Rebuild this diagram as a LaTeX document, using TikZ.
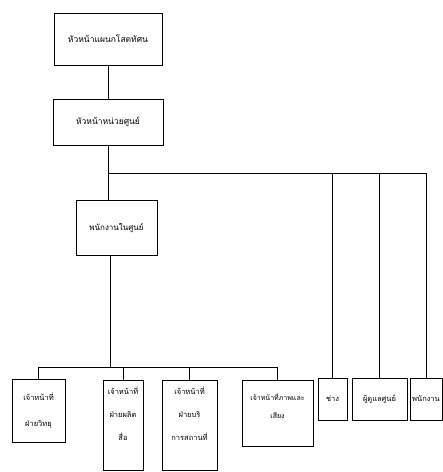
\documentclass[tikz,border=0pt]{standalone}
\usepackage{fontspec}
\newfontfamily\thaifont[Script=Thai]{Loma}

\tikzset{
  unitbox/.style={draw, line width=0.8pt, rectangle, inner sep=1pt,
                  align=center, font=\thaifont\fontsize{7.5}{10}\selectfont},
  link/.style={line width=0.8pt}
}

\begin{document}
\begin{tikzpicture}[x=1pt, y=-1pt]
\useasboundingbox (0,0) rectangle (443,472);
 \begin{scope}[every node/.style={unitbox}]
  \node (head)  [minimum width=108pt, minimum height=52pt, font=\thaifont\fontsize{8.5}{10}\selectfont] at (108,39) {หัวหน้าแผนกโสตทัศน};
  \node (chief) [minimum width=110pt, minimum height=46pt, font=\thaifont\fontsize{8.5}{10}\selectfont] at (108,122) {หัวหน้าหน่วยศูนย์};
  \node (staff) [minimum width=81pt,  minimum height=55pt, font=\thaifont\fontsize{8}{10}\selectfont] at (116.5,227.5) {พนักงานในศูนย์};
  \node (radio) [minimum width=53pt,  minimum height=63pt] at (38.5,411)  {เจ้าหน้าที่\\[16pt]ฝ่ายวิทยุ};
  \node (media) [minimum width=40pt,  minimum height=90pt] at (123,425)   {เจ้าหน้าที่\\[13pt]ฝ่ายผลิต\\[13pt]สื่อ\\[13pt]\mbox{}};
  \node (serv)  [minimum width=55pt,  minimum height=90pt] at (189.5,425) {เจ้าหน้าที่\\[13pt]ฝ่ายบริ\\[13pt]การสถานที่\\[13pt]\mbox{}};
  \node (sound) [minimum width=71pt,  minimum height=66pt, font=\thaifont\fontsize{7}{10}\selectfont] at (277.5,413) {เจ้าหน้าที่ภาพและ\\[8pt]เสียง\\[4pt]\mbox{}};
  \node (tech)  [minimum width=29pt,  minimum height=42pt] at (332.5,399) {ช่าง};
  \node (keep)  [minimum width=55pt,  minimum height=42pt] at (379.5,399) {ผู้ดูแลศูนย์};
  \node (clerk) [minimum width=32pt,  minimum height=42pt] at (426,399)   {พนักงาน};
 \end{scope}
 % joints of the two bus lines
 \coordinate (upbus) at (108,173);
 \coordinate (lowbus) at (110,367);
  \path [link] (head) edge (chief);
  \path [link] (chief) edge (staff.north -| chief.south);
  \draw [link] (upbus) -| (tech.north);
  \draw [link] (upbus) -| (keep.north);
  \draw [link] (upbus) -| (clerk.north);
  \path [link] (staff.south -| lowbus) edge (lowbus);
  \draw [link] (lowbus) -| (radio.north);
  \draw [link] (lowbus) -| (media.north);
  \draw [link] (lowbus) -| (serv.north);
  \draw [link] (lowbus) -| (sound.north);
\end{tikzpicture}
\end{document}
